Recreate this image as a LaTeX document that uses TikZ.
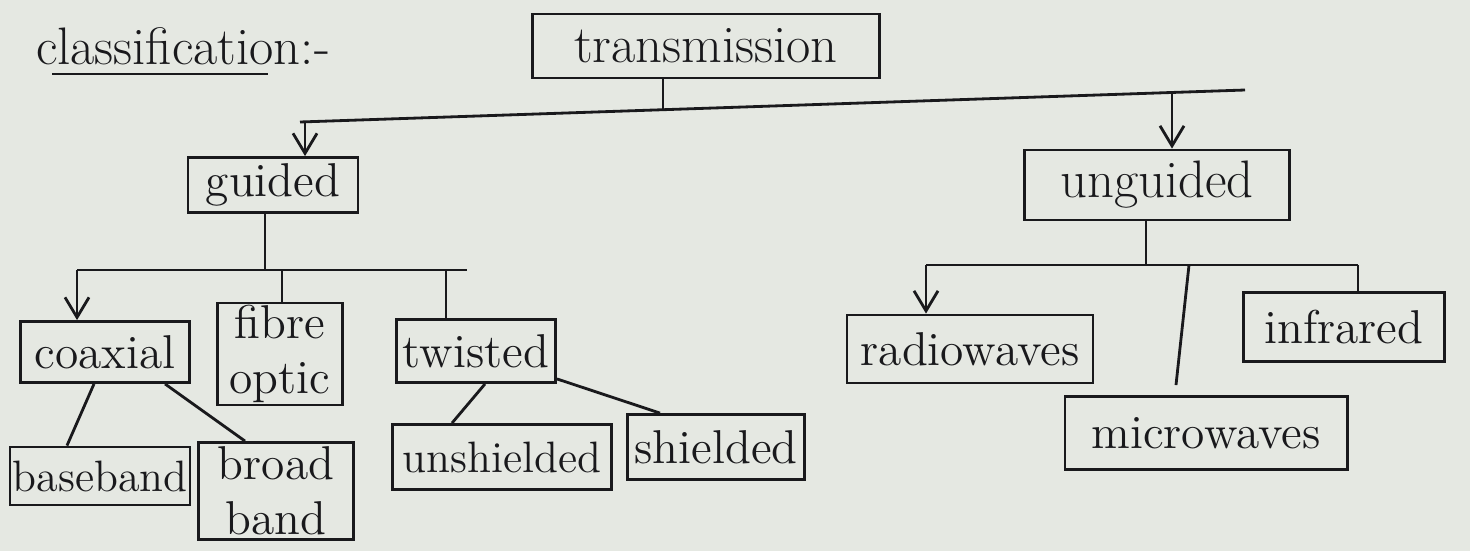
\documentclass[tikz,border=0pt]{standalone}
\usetikzlibrary{arrows.meta}
\definecolor{paper}{RGB}{229,232,226}
\definecolor{ink}{RGB}{25,25,28}
\tikzset{
  box/.style={draw=ink, line width=0.8pt, inner sep=0pt, align=center,
    font=\fontsize{13.5}{15.5}\selectfont, text=ink},
  smallbox/.style={box, font=\fontsize{12.5}{14.5}\selectfont},
  wire/.style={draw=ink, line width=0.8pt},
  arr/.style={wire, -{Straight Barb[length=2mm,width=2.4mm]}},
}
\begin{document}
\begin{tikzpicture}[x=0.01cm, y=-0.01cm]
\fill[paper] (0,0) rectangle (1470,551);
\useasboundingbox (0,0) rectangle (1470,551);

% heading
\node[text=ink, font=\fontsize{15}{17}\selectfont] (cls) at (183,46) {classification:-};
\coordinate (u1) at (52,74);
\coordinate (u2) at (268,74);
\draw[wire] (u1) -- (u2);

% boxes
\node[box, font=\fontsize{15}{17}\selectfont, minimum width=3.47cm, minimum height=0.64cm] (trans) at (706,46) {transmission};
\node[box, minimum width=1.70cm, minimum height=0.55cm] (guided) at (273,185) {guided};
\node[box, font=\fontsize{15}{17}\selectfont, minimum width=2.65cm, minimum height=0.70cm] (unguided) at (1157,185) {unguided};
\node[box, minimum width=1.69cm, minimum height=0.61cm] (coaxial) at (105,352) {coaxial};
\node[box, minimum width=1.25cm, minimum height=1.02cm] (fibre) at (280,354) {fibre\\optic};
\node[box, minimum width=1.59cm, minimum height=0.63cm] (twisted) at (476,351) {twisted};
\node[smallbox, minimum width=1.80cm, minimum height=0.58cm] (baseband) at (100,476) {baseband};
\node[box, minimum width=1.55cm, minimum height=0.97cm] (broadband) at (276,491) {broad\\band};
\node[smallbox, minimum width=2.19cm, minimum height=0.65cm] (unshielded) at (502,457) {unshielded};
\node[box, minimum width=1.77cm, minimum height=0.65cm] (shielded) at (716,447) {shielded};
\node[box, minimum width=2.46cm, minimum height=0.68cm] (radio) at (970,349) {radiowaves};
\node[box, minimum width=2.01cm, minimum height=0.69cm] (infra) at (1344,327) {infrared};
\node[box, minimum width=2.82cm, minimum height=0.73cm] (micro) at (1206,433) {microwaves};

% first level
\coordinate (tL) at (300,122);
\coordinate (tR) at (1245,90);
\coordinate (tj) at (663,110);
\coordinate (gj) at (305,121.8);
\coordinate (uj) at (1172,92.5);
\draw[wire] (tL) -- (tR);
\draw[wire] (tj |- trans.south) -- (tj);
\draw[arr] (gj) -- (gj |- guided.north);
\draw[arr] (uj) -- (uj |- unguided.north);

% guided media
\coordinate (gs) at (265,270);
\coordinate (gL) at (77,270);
\coordinate (gR) at (467,270);
\coordinate (fj) at (282,270);
\coordinate (wj) at (446,270);
\draw[wire] (gs |- guided.south) -- (gs);
\draw[wire] (gL) -- (gR);
\draw[arr] (gL) -- (gL |- coaxial.north);
\draw[wire] (fj) -- (fj |- fibre.north);
\draw[wire] (wj) -- (wj |- twisted.north);

\draw[wire] ([xshift=-0.11cm]coaxial.south) -- ([xshift=-0.33cm]baseband.north);
\draw[wire] ([xshift=0.6cm]coaxial.south) -- ([xshift=-0.31cm]broadband.north);
\draw[wire] ([xshift=0.09cm]twisted.south) -- ([xshift=-0.5cm]unshielded.north);
\draw[wire] ([yshift=0.05cm]twisted.south east) -- ([xshift=-0.56cm]shielded.north);

% unguided media
\coordinate (us) at (1146,265);
\coordinate (rL) at (926,265);
\coordinate (rR) at (1358,265);
\coordinate (mj) at (1189,265);
\draw[wire] (us |- unguided.south) -- (us);
\draw[wire] (rL) -- (rR);
\draw[arr] (rL) -- (rL |- radio.north);
\draw[wire] (mj) -- ([xshift=-0.3cm, yshift=0.1cm]micro.north);
\draw[wire] (rR) -- (rR |- infra.north);
\end{tikzpicture}
\end{document}
